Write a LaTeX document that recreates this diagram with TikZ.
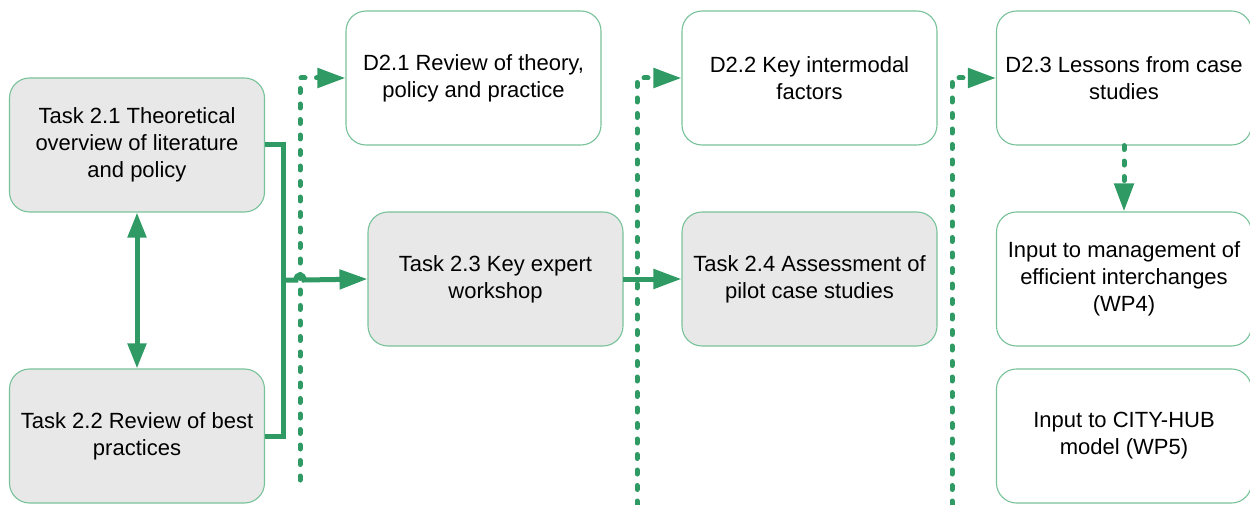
\documentclass[tikz,border=0pt]{standalone}
\usepackage{fontspec}
\setmainfont{Liberation Sans}
\usetikzlibrary{arrows.meta}
\definecolor{lgreen}{HTML}{2F9A64}
\definecolor{bgreen}{HTML}{78C29A}
\definecolor{boxgray}{HTML}{E8E8E8}
\tikzset{
  box/.style={draw=bgreen, line width=1.1pt, rounded corners=20pt, minimum width=255pt, minimum height=134pt, inner sep=0pt, align=center, font=\fontsize{22}{27}\selectfont},
  task/.style={box, fill=boxgray},
  deliv/.style={box, fill=white},
  conn/.style={draw=lgreen, line width=5pt},
  dotconn/.style={draw=lgreen, line width=5pt, line cap=round, dash pattern=on 4pt off 11.5pt},
  tip/.style={-{Triangle[length=28pt,width=19pt]}},
  dtip/.style={{Triangle[length=25pt,width=18pt]}-{Triangle[length=25pt,width=18pt]}}
}
\begin{document}
\begin{tikzpicture}[x=1pt,y=-1pt]
\useasboundingbox (0,0) rectangle (1250,505);
\fill[white] (0,0) rectangle (1250,505);
% nodes
\node[task] (t21) at (137,145) {Task 2.1 Theoretical\\overview of literature\\and policy};
\node[task] (t22) at (137,436) {Task 2.2 Review of best\\practices};
\node[deliv] (d21) at (473.5,78) {D2.1 Review of theory,\\policy and practice};
\node[task] (t23) at (495.5,279) {Task 2.3 Key expert\\workshop};
\node[deliv] (d22) at (809.5,78) {D2.2 Key intermodal\\factors};
\node[task] (t24) at (809.5,279) {Task 2.4 Assessment of\\pilot case studies};
\node[deliv] (d23) at (1124,78) {D2.3 Lessons from case\\studies};
\node[deliv] (in4) at (1124,279) {Input to management of\\efficient interchanges\\(WP4)};
\node[deliv] (in5) at (1124,436) {Input to CITY-HUB\\model (WP5)};
% coordinates
\coordinate (bx) at (283,280);
\coordinate (dA) at (300,480);
\coordinate (dB) at (637,505);
\coordinate (dC) at (952,505);
% double arrow
\draw[conn, dtip] (t21.south) -- (t22.north);
% bracket
\draw[conn] (t21.east) -| (bx) |- (t22.east);
% dotted lines
\draw[dotconn, tip] (dA) |- (d21.west);
\draw[dotconn, tip] (dB) |- (d22.west);
\draw[dotconn, tip] (dC) |- (d23.west);
\draw[dotconn, tip] (d23.south) -- (in4.north);
% solid arrows
\draw[conn, tip] (bx) -- (296,280) .. controls (296,273) and (304,273) .. (304,280) -- (t23.west);
\draw[conn, tip] ([xshift=-1pt]t23.east) -- (t24.west);
\end{tikzpicture}
\end{document}
